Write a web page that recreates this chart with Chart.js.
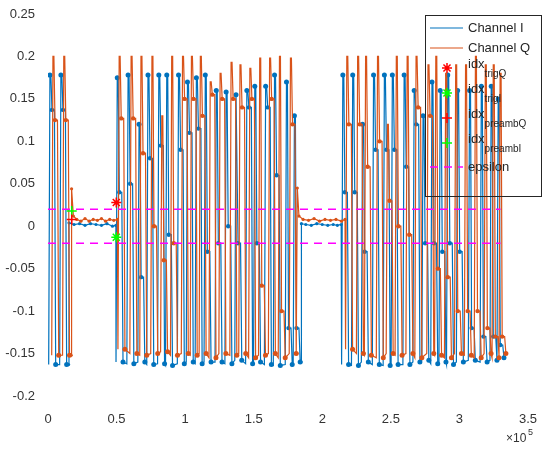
<!DOCTYPE html>
<html lang="en">
<head>
  <meta charset="UTF-8" />
  <title>Channel I / Q</title>
  <script src="https://cdn.jsdelivr.net/npm/chart.js"></script>
  <style>
    html, body { margin: 0; padding: 0; background: #fff; }
    #wrap { width: 545px; height: 450px; }
  </style>
</head>
<body>
  <div id="wrap"><canvas id="grafica" width="545" height="450"></canvas></div>

  <script>
    // axis ticks
    const xTicks = [0, 50000, 100000, 150000, 200000, 250000, 300000, 350000];
    const yTicks = [-0.2, -0.15, -0.1, -0.05, 0, 0.05, 0.1, 0.15, 0.2, 0.25];

    // Channel I swings: top position (samples), top, level held on the way down, bottom
    const iRise = [1400, 9400,
      50500, 58400, 66400, 72900, 80800, 86600, 95200, 101700, 108200, 114700, 122700, 129900, 137100, 145000, 150800, 158700, 165200, 173900, 179700,
      215000, 222200, 229400, 237400, 245300, 251100, 259700, 267000, 273500, 280000, 286000, 291500, 298700, 307400, 316000, 323200, 328300];
    const iPeak = [0.178, 0.178,
      0.175, 0.178, 0.12, 0.178, 0.178, 0.178, 0.178, 0.17, 0.175, 0.178, 0.16, 0.158, 0.155, 0.16, 0.165, 0.165, 0.178, 0.17, 0.13,
      0.178, 0.178, 0.12, 0.178, 0.178, 0.178, 0.178, 0.16, 0.13, 0.17, 0.16, 0.178, 0.16, 0.16, 0.165, 0.165, 0.15];
    const iMid = [0.137, 0.137,
      0.04, 0.05, -0.06, 0.08, 0.095, -0.01, 0.09, 0.11, 0.115, -0.03, -0.02, 0.0, -0.02, 0.14, -0.02, 0.14, 0.06, -0.12, -0.12,
      0.04, 0.04, -0.03, 0.09, 0.09, 0.09, 0.07, 0.12, -0.02, -0.02, -0.03, -0.02, -0.03, -0.12, -0.13, -0.13, -0.14];
    const iLow = [-0.163, -0.163,
      -0.16, -0.162, -0.16, -0.163, -0.162, -0.164, -0.162, -0.16, -0.162, -0.16, -0.16, -0.162, -0.158, -0.162, -0.16, -0.163, -0.164, -0.163, -0.16,
      -0.163, -0.164, -0.16, -0.163, -0.164, -0.163, -0.163, -0.16, -0.158, -0.162, -0.16, -0.163, -0.16, -0.158, -0.16, -0.158, -0.155];
    // quiet stretches of Channel I
    const iFlatX = [15000, 15300, 19000, 23000, 27000, 31000, 35000, 39000, 43000, 47000, 49500,
      184500, 184800, 188000, 192000, 196000, 200000, 204000, 208000, 211000, 213800];
    const iFlatY = [-0.163, 0.004, 0.002, 0.003, 0.001, 0.003, 0.002, 0.001, 0.003, 0.0, 0.001,
      -0.16, 0.003, 0.002, 0.001, 0.003, 0.002, 0.001, 0.002, 0.001, 0.002];

    // Channel Q swings
    const qRise = [3600, 11500,
      51900, 60600, 67800, 75800, 83000, 90200, 98100, 104600, 111100, 118300, 125500, 133500, 140000, 147200, 154400, 161600, 168800, 176800,
      217900, 225800, 231600, 240300, 247500, 254000, 261900, 268400, 277100, 282800, 290000, 297300, 304500, 311700, 318900, 324700, 329700];
    const qPeak = [0.2, 0.2,
      0.2, 0.2, 0.2, 0.2, 0.13, 0.2, 0.2, 0.2, 0.2, 0.17, 0.18, 0.193, 0.19, 0.186, 0.198, 0.198, 0.2, 0.198,
      0.2, 0.2, 0.2, 0.2, 0.12, 0.2, 0.2, 0.2, 0.19, 0.2, 0.18, 0.19, 0.19, 0.2, 0.19, 0.19, 0.18];
    const qMid = [0.125, 0.125,
      0.127, 0.127, 0.086, 0.0, -0.04, -0.02, 0.15, 0.15, 0.13, 0.155, 0.15, 0.15, 0.14, 0.15, -0.07, 0.15, -0.1, 0.12,
      0.12, 0.12, 0.07, 0.1, 0.03, 0.0, -0.01, 0.14, 0.13, -0.05, -0.06, -0.1, -0.1, -0.1, -0.12, -0.13, -0.13];
    const qLow = [-0.152, -0.152,
      -0.145, -0.15, -0.152, -0.15, -0.148, -0.152, -0.15, -0.152, -0.15, -0.155, -0.15, -0.152, -0.15, -0.155, -0.152, -0.15, -0.155, -0.15,
      -0.145, -0.15, -0.152, -0.155, -0.15, -0.152, -0.15, -0.155, -0.15, -0.152, -0.155, -0.15, -0.152, -0.155, -0.15, -0.155, -0.15];
    const qFlatX = [16900, 17200, 18500, 21000, 24000, 27000, 30000, 33000, 36000, 39000, 42000, 45000, 48000, 50600,
      181500, 181800, 183000, 186000, 190000, 194000, 198000, 202000, 206000, 210000, 214000, 216600];
    const qFlatY = [-0.152, 0.044, 0.012, 0.008, 0.006, 0.009, 0.006, 0.008, 0.007, 0.009, 0.006, 0.008, 0.007, 0.008,
      -0.15, 0.045, 0.012, 0.008, 0.007, 0.009, 0.006, 0.008, 0.007, 0.008, 0.006, 0.008];

    // detected indices
    const trigX = [49800];
    const trigQY = [0.028];
    const trigIY = [-0.013];
    const preambX = [17300];
    const preambQY = [0.008];
    const preambIY = [0.018];

    // threshold
    const epsilon = 0.02;
    const epsX = [0, 330000];

    const colI = '#0072BD';
    const colQ = '#D95319';
    const fuente = '"Liberation Sans", Arial, sans-serif';

    // swing table -> polyline vertices: steep rise, short hold at top, hold at mid level, hold at bottom
    function armarLinea(rise, peak, mid, low, flatX, flatY, dotTop) {
      const pts = [];
      rise.forEach((x, k) => {
        pts.push({ x: x - 900, y: low[k], r: 0 });
        pts.push({ x: x, y: peak[k], r: dotTop });
        pts.push({ x: x + 700, y: peak[k], r: 0 });
        pts.push({ x: x + 1500, y: mid[k], r: 2.2 });
        pts.push({ x: x + 3300, y: mid[k], r: 0 });
        pts.push({ x: x + 4200, y: low[k], r: 2.5 });
      });
      flatX.forEach((x, k) => pts.push({ x: x, y: flatY[k], r: 1.6 }));
      return pts.sort((a, b) => a.x - b.x);
    }

    const datosI = armarLinea(iRise, iPeak, iMid, iLow, iFlatX, iFlatY, 2.5);
    const datosQ = armarLinea(qRise, qPeak, qMid, qLow, qFlatX, qFlatY, 0);

    const leyenda = [
      { txt: 'Channel I', tipo: 'line', color: colI, y: 28 },
      { txt: 'Channel Q', tipo: 'line', color: colQ, y: 48 },
      { txt: 'idx', sub: 'trigQ', tipo: 'star', color: '#FF0000', y: 68 },
      { txt: 'idx', sub: 'trigI', tipo: 'star', color: '#00FF00', y: 93 },
      { txt: 'idx', sub: 'preambQ', tipo: 'cross', color: '#FF0000', y: 118 },
      { txt: 'idx', sub: 'preambI', tipo: 'cross', color: '#00FF00', y: 143 },
      { txt: 'epsilon', tipo: 'dash', color: '#FF00FF', y: 167 }
    ];

    const extras = {
      id: 'extras',
      afterDraw(chart) {
        const c = chart.ctx;
        c.save();
        // x10^5 exponent
        c.fillStyle = '#333';
        c.textBaseline = 'alphabetic';
        c.font = '12px ' + fuente;
        c.fillText('\u00d710', 506, 442);
        c.font = '9px ' + fuente;
        c.fillText('5', 528, 435);

        // legend box
        c.strokeStyle = '#262626';
        c.lineWidth = 1;
        c.strokeRect(425.5, 15.5, 116, 181);
        leyenda.forEach(e => {
          c.strokeStyle = e.color;
          c.lineWidth = e.tipo === 'line' ? 1.2 : 1.5;
          if (e.tipo === 'line') {
            c.beginPath(); c.moveTo(430, e.y); c.lineTo(463, e.y); c.stroke();
          } else if (e.tipo === 'dash') {
            c.setLineDash([8, 6]);
            c.beginPath(); c.moveTo(430, e.y); c.lineTo(463, e.y); c.stroke();
            c.setLineDash([]);
          } else {
            Chart.helpers.drawPoint(c, { pointStyle: e.tipo, radius: 5, borderWidth: 1.5 }, 447, e.y);
          }
          c.fillStyle = '#262626';
          c.textBaseline = 'middle';
          c.font = '13px ' + fuente;
          if (e.sub) {
            c.fillText(e.txt, 468, e.y - 4);
            const w = c.measureText(e.txt).width;
            c.font = '10px ' + fuente;
            c.fillText(e.sub, 468 + w, e.y + 6);
          } else {
            c.fillText(e.txt, 468, e.y);
          }
        });
        c.restore();
      }
    };

    const ticksComunes = { color: '#333', font: { size: 13, family: fuente }, maxRotation: 0, autoSkip: false };

    new Chart(document.getElementById('grafica').getContext('2d'), {
      type: 'scatter',
      data: {
        datasets: [
          { label: 'idx_trigQ', data: trigX.map((x, k) => ({ x: x, y: trigQY[k] })), pointStyle: 'star', radius: 5,
            borderColor: '#FF0000', borderWidth: 1.5, order: 0 },
          { label: 'idx_trigI', data: trigX.map((x, k) => ({ x: x, y: trigIY[k] })), pointStyle: 'star', radius: 5,
            borderColor: '#00FF00', borderWidth: 1.5, order: 0 },
          { label: 'idx_preambQ', data: preambX.map((x, k) => ({ x: x, y: preambQY[k] })), pointStyle: 'cross', radius: 5,
            borderColor: '#FF0000', borderWidth: 1.5, order: 0 },
          { label: 'idx_preambI', data: preambX.map((x, k) => ({ x: x, y: preambIY[k] })), pointStyle: 'cross', radius: 5,
            borderColor: '#00FF00', borderWidth: 1.5, order: 0 },
          { label: 'epsilon', data: epsX.map(x => ({ x: x, y: epsilon })), showLine: true, borderColor: '#FF00FF',
            borderWidth: 1.5, borderDash: [8, 6], pointRadius: 0, order: 1 },
          { label: 'epsilon-', data: epsX.map(x => ({ x: x, y: -epsilon })), showLine: true, borderColor: '#FF00FF',
            borderWidth: 1.5, borderDash: [8, 6], pointRadius: 0, order: 1 },
          { label: 'Channel Q', data: datosQ, showLine: true, borderColor: colQ, borderWidth: 1.2,
            backgroundColor: colQ, pointBorderWidth: 0, pointRadius: c => (c.raw ? c.raw.r : 0), order: 2 },
          { label: 'Channel I', data: datosI, showLine: true, borderColor: colI, borderWidth: 1.2,
            backgroundColor: colI, pointBorderWidth: 0, pointRadius: c => (c.raw ? c.raw.r : 0), order: 3 }
        ]
      },
      options: {
        responsive: false,
        animation: false,
        devicePixelRatio: 1,
        layout: { padding: { top: 14, right: 12, left: 0, bottom: 0 } },
        plugins: { legend: { display: false }, tooltip: { enabled: false } },
        scales: {
          x: {
            type: 'linear', min: 0, max: 350000,
            grid: { display: false }, border: { display: false },
            ticks: Object.assign({ padding: 8, callback: v => String(v / 1e5) }, ticksComunes),
            afterBuildTicks: s => { s.ticks = xTicks.map(v => ({ value: v })); },
            afterFit: s => { s.height = 54; }
          },
          y: {
            min: -0.2, max: 0.25,
            grid: { display: false }, border: { display: false },
            ticks: Object.assign({ padding: 5, callback: v => String(Number(v.toFixed(2))) }, ticksComunes),
            afterBuildTicks: s => { s.ticks = yTicks.map(v => ({ value: v })); },
            afterFit: s => { s.width = 48; }
          }
        }
      },
      plugins: [extras]
    });
  </script>
</body>
</html>
